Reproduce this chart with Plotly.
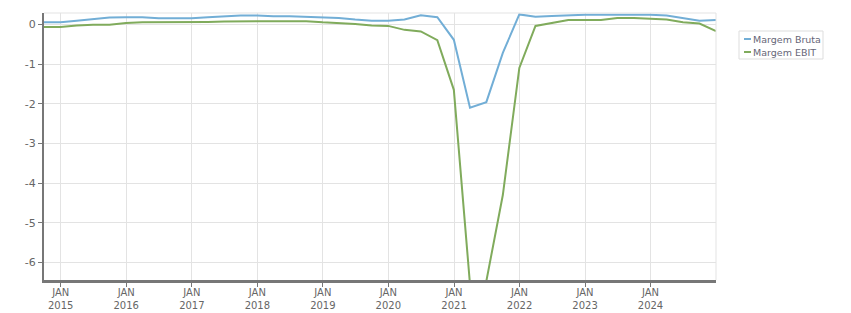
import plotly.graph_objects as go

quarters = [
    "2014-09-30", "2014-12-31",
    "2015-03-31", "2015-06-30", "2015-09-30", "2015-12-31",
    "2016-03-31", "2016-06-30", "2016-09-30", "2016-12-31",
    "2017-03-31", "2017-06-30", "2017-09-30", "2017-12-31",
    "2018-03-31", "2018-06-30", "2018-09-30", "2018-12-31",
    "2019-03-31", "2019-06-30", "2019-09-30", "2019-12-31",
    "2020-03-31", "2020-06-30", "2020-09-30", "2020-12-31",
    "2021-03-31", "2021-06-30", "2021-09-30", "2021-12-31",
    "2022-03-31", "2022-06-30", "2022-09-30", "2022-12-31",
    "2023-03-31", "2023-06-30", "2023-09-30", "2023-12-31",
    "2024-03-31", "2024-06-30", "2024-09-30", "2024-12-31",
]

margem_bruta = [
    0.05, 0.05,
    0.09, 0.13, 0.17, 0.18,
    0.18, 0.15, 0.15, 0.15,
    0.18, 0.20, 0.22, 0.22,
    0.20, 0.20, 0.19, 0.18,
    0.16, 0.12, 0.09, 0.09,
    0.12, 0.23, 0.18, -0.39,
    -2.10, -1.96, -0.72, 0.25,
    0.19, 0.21, 0.23, 0.24,
    0.24, 0.24, 0.24, 0.24,
    0.22, 0.15, 0.09, 0.11,
]

margem_ebit = [
    -0.07, -0.07,
    -0.03, -0.01, -0.01, 0.03,
    0.05, 0.05, 0.05, 0.05,
    0.06, 0.07, 0.08, 0.08,
    0.08, 0.08, 0.08, 0.05,
    0.03, 0.01, -0.03, -0.04,
    -0.14, -0.18, -0.40, -1.65,
    -6.55, -6.47, -4.30, -1.10,
    -0.04, 0.04, 0.11, 0.11,
    0.11, 0.16, 0.16, 0.14,
    0.12, 0.05, 0.02, -0.17,
]

tick_dates = ["2015-01-01", "2016-01-01", "2017-01-01", "2018-01-01", "2019-01-01",
              "2020-01-01", "2021-01-01", "2022-01-01", "2023-01-01", "2024-01-01"]
tick_years = ["2015", "2016", "2017", "2018", "2019", "2020", "2021", "2022", "2023", "2024"]
tick_text = ["JAN<br>" + y for y in tick_years]

y_ticks = [0, -1, -2, -3, -4, -5, -6]
y_tick_text = ["0", "-1", "-2", "-3", "-4", "-5", "-6"]

series_names = ["Margem Bruta", "Margem EBIT"]
colors = ["#72aed6", "#80ab5c"]

FONT = "DejaVu Sans"
TXT = "#666666"

fig = go.Figure()
for name, vals, col in zip(series_names, [margem_bruta, margem_ebit], colors):
    fig.add_trace(go.Scatter(x=quarters, y=vals, mode="lines", name=name,
                             line=dict(color=col, width=2), showlegend=False))

fig.update_layout(
    width=851, height=313,
    margin=dict(l=44, r=135, t=13, b=33, autoexpand=False),
    plot_bgcolor="white", paper_bgcolor="white",
    font=dict(family=FONT, size=10, color=TXT),
    xaxis=dict(
        type="date", range=["2014-09-30", "2024-12-31"],
        tickvals=tick_dates, ticktext=tick_text,
        showgrid=True, gridcolor="#e3e3e3", gridwidth=1,
        showline=True, linecolor="#777777", linewidth=3,
        ticks="outside", ticklen=4, tickcolor="#777777", tickwidth=1,
        ticklabelstandoff=-3,
        tickfont=dict(family=FONT, size=10, color=TXT),
        zeroline=False, automargin=False,
    ),
    yaxis=dict(
        range=[-6.44, 0.285],
        tickvals=y_ticks, ticktext=y_tick_text,
        showgrid=True, gridcolor="#e3e3e3", gridwidth=1,
        showline=True, linecolor="#777777", linewidth=2,
        ticks="outside", ticklen=4, tickcolor="#777777", tickwidth=1,
        tickfont=dict(family=FONT, size=11, color=TXT),
        zeroline=False, automargin=False,
    ),
)

# light border on top and right of plot area
fig.add_shape(type="line", xref="paper", yref="paper", x0=0, x1=1, y0=1, y1=1,
              line=dict(color="#e3e3e3", width=1))
fig.add_shape(type="line", xref="paper", yref="paper", x0=1, x1=1, y0=0, y1=1,
              line=dict(color="#e3e3e3", width=1))

# custom legend (short line symbols)
lx0, lx1 = (739 - 44) / 672, (823 - 44) / 672
ly0, ly1 = (280 - 59) / 267, (280 - 31) / 267
fig.add_shape(type="rect", xref="paper", yref="paper", x0=lx0, x1=lx1, y0=ly0, y1=ly1,
              line=dict(color="#dddddd", width=1), fillcolor="white")
for i, (name, col) in enumerate(zip(series_names, colors)):
    py = 39 + 13 * i
    yp = (280 - py) / 267
    fig.add_shape(type="line", xref="paper", yref="paper",
                  x0=(744 - 44) / 672, x1=(751 - 44) / 672, y0=yp, y1=yp,
                  line=dict(color=col, width=2))
    fig.add_annotation(xref="paper", yref="paper", x=(751 - 44) / 672, y=yp,
                       text=name, showarrow=False, xanchor="left", yanchor="middle",
                       font=dict(family=FONT, size=9.5, color="#666677"))

fig.write_html("out.html")
